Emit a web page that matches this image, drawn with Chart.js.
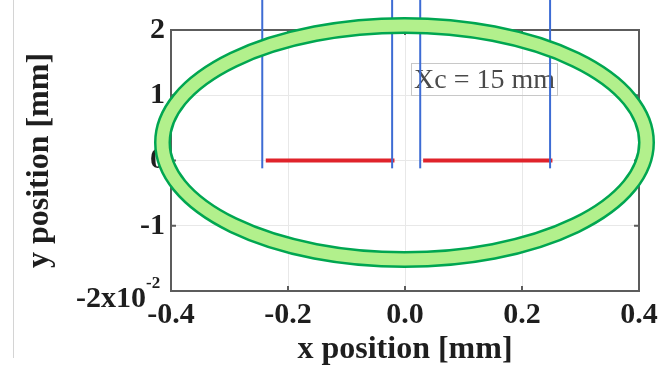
<!DOCTYPE html>
<html>
<head>
<meta charset="utf-8">
<script src="https://cdn.jsdelivr.net/npm/chart.js@4.4.0/dist/chart.umd.min.js"></script>
<style>
  html, body { margin: 0; padding: 0; background: #fff; }
  #wrap { width: 664px; height: 369px; }
</style>
</head>
<body>
<div id="wrap"><canvas id="chart" width="664" height="369"></canvas></div>
<script>
// values
const xTicks = [-0.4, -0.2, 0.0, 0.2, 0.4];
const yTicks = [-2, -1, 0, 1, 2];
const redStart = [-0.238, 0.031];
const redEnd = [-0.018, 0.252];
const blueX = [-0.244, -0.022, 0.026, 0.248];
const blueFrom = -0.12;
const blueTo = 2.6;
const noteText = "Xc = 15 mm";

const serif = "'Liberation Serif', 'Times New Roman', serif";

const blueSets = blueX.map(x => ({
  data: [{ x: x, y: blueFrom }, { x: x, y: blueTo }],
  borderColor: "#3d6cd4",
  borderWidth: 2,
  pointRadius: 0,
  clip: false
}));

const redSets = redStart.map((s, i) => ({
  data: [{ x: s, y: 0 }, { x: redEnd[i], y: 0 }],
  borderColor: "#e0232b",
  borderWidth: 4,
  pointRadius: 0
}));

const decor = {
  id: "decor",
  beforeDraw(chart) {
    const ctx = chart.ctx;
    ctx.save();
    ctx.strokeStyle = "#d4d4d4";
    ctx.lineWidth = 1;
    ctx.beginPath();
    ctx.moveTo(13.5, 0);
    ctx.lineTo(13.5, 358);
    ctx.stroke();
    ctx.restore();
  },
  beforeDatasetsDraw(chart) {
    const { ctx, chartArea: a, scales } = chart;
    ctx.save();
    // note box
    ctx.strokeStyle = "#c8c8c8";
    ctx.lineWidth = 1;
    ctx.strokeRect(411.5, 63.5, 146, 32);
    ctx.fillStyle = "#4a4a4a";
    ctx.font = "28px " + serif;
    ctx.textAlign = "left";
    ctx.textBaseline = "alphabetic";
    ctx.fillText(noteText, 414, 88);
    // frame + inner ticks
    ctx.strokeStyle = "#5c5c5c";
    ctx.lineWidth = 2;
    ctx.strokeRect(a.left, a.top, a.right - a.left, a.bottom - a.top);
    ctx.beginPath();
    xTicks.forEach(v => {
      const px = scales.x.getPixelForValue(v);
      ctx.moveTo(px, a.bottom); ctx.lineTo(px, a.bottom - 5);
      ctx.moveTo(px, a.top); ctx.lineTo(px, a.top + 5);
    });
    yTicks.forEach(v => {
      const py = scales.y.getPixelForValue(v);
      ctx.moveTo(a.left, py); ctx.lineTo(a.left + 5, py);
      ctx.moveTo(a.right, py); ctx.lineTo(a.right - 5, py);
    });
    ctx.stroke();
    ctx.restore();
  },
  afterDraw(chart) {
    const ctx = chart.ctx;
    ctx.save();
    // -2x10^-2 tick label
    ctx.fillStyle = "#1e1e1e";
    ctx.textBaseline = "alphabetic";
    ctx.textAlign = "right";
    ctx.font = "bold 30px " + serif;
    ctx.fillText("-2x10", 146, 307);
    ctx.textAlign = "left";
    ctx.font = "bold 17px " + serif;
    ctx.fillText("-2", 146, 288);
    // green ring
    ctx.beginPath();
    ctx.ellipse(404.5, 142.5, 242, 117, 0, 0, Math.PI * 2);
    ctx.strokeStyle = "#00a651";
    ctx.lineWidth = 17;
    ctx.stroke();
    ctx.strokeStyle = "#b2f08c";
    ctx.lineWidth = 12;
    ctx.stroke();
    ctx.restore();
  }
};

new Chart(document.getElementById("chart"), {
  type: "scatter",
  data: { datasets: [...blueSets, ...redSets] },
  options: {
    responsive: false,
    animation: false,
    showLine: true,
    layout: { padding: { top: 30, right: 25, left: 0, bottom: 0 } },
    plugins: { legend: { display: false }, tooltip: { enabled: false } },
    scales: {
      x: {
        type: "linear",
        min: -0.4,
        max: 0.4,
        afterBuildTicks: s => { s.ticks = xTicks.map(v => ({ value: v })); },
        afterFit: s => { s.height = 78; },
        ticks: {
          callback: v => Number(v).toFixed(1),
          font: { family: serif, size: 30, weight: "bold" },
          color: "#1e1e1e",
          padding: 6,
          maxRotation: 0
        },
        grid: { color: "#e8e8e8", drawTicks: false },
        border: { display: false },
        title: {
          display: true,
          text: "x position [mm]",
          font: { family: serif, size: 32, weight: "bold" },
          color: "#1e1e1e",
          padding: { top: 0, bottom: 0 }
        }
      },
      y: {
        type: "linear",
        min: -2,
        max: 2,
        afterBuildTicks: s => { s.ticks = yTicks.map(v => ({ value: v })); },
        afterFit: s => { s.width = 171; },
        ticks: {
          callback: v => (v === -2 ? "" : String(v)),
          font: { family: serif, size: 30, weight: "bold" },
          color: "#1e1e1e",
          padding: 6
        },
        grid: { color: "#e8e8e8", drawTicks: false },
        border: { display: false },
        title: {
          display: true,
          text: "y position [mm]",
          font: { family: serif, size: 32, weight: "bold" },
          color: "#1e1e1e",
          padding: { top: 21, bottom: 0 }
        }
      }
    }
  },
  plugins: [decor]
});
</script>
</body>
</html>
